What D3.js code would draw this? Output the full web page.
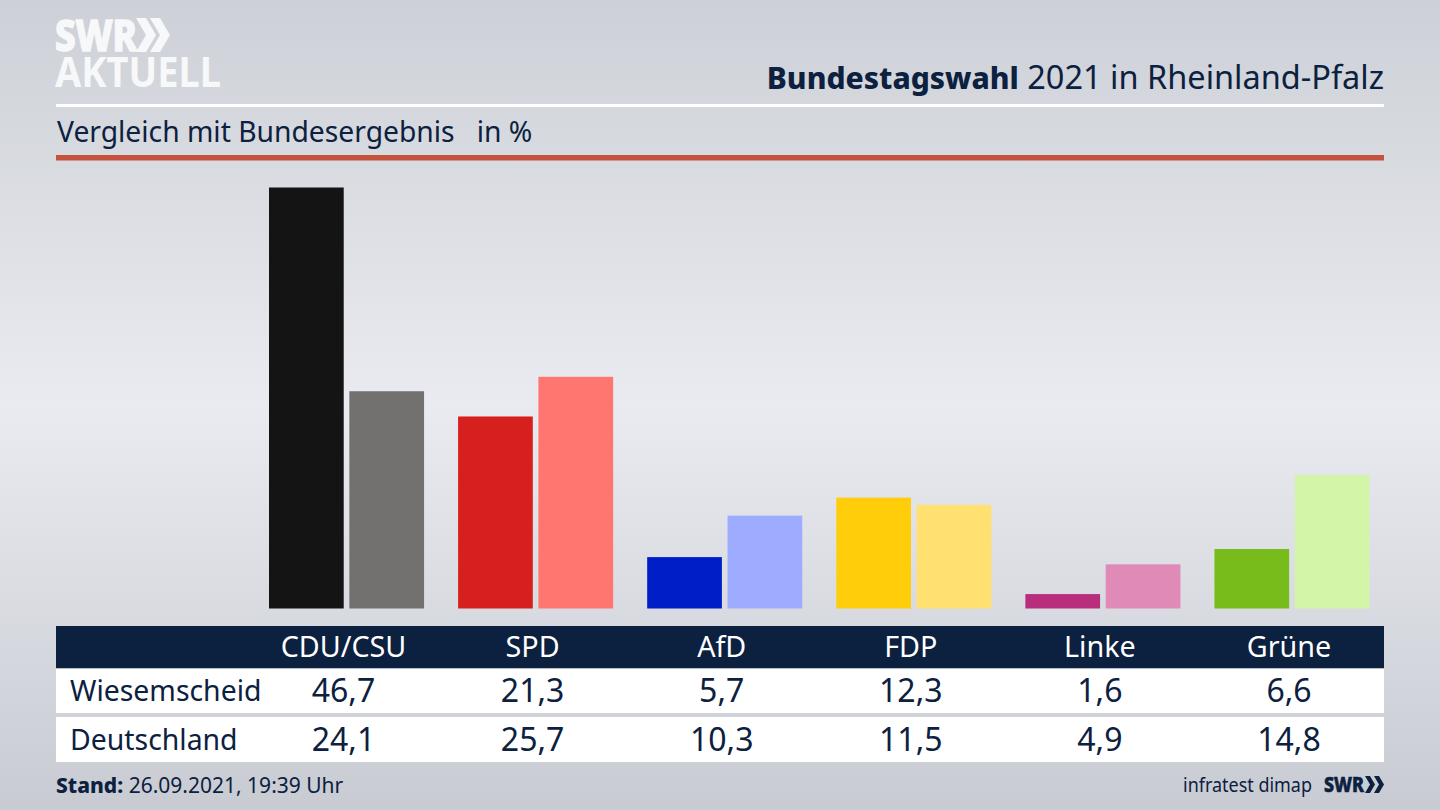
<!DOCTYPE html>
<html>
<head>
<meta charset="utf-8">
<script src="https://cdn.jsdelivr.net/npm/d3@7"></script>
<style>
  html, body { margin: 0; padding: 0; background: #dde0e5; }
  svg { display: block; }
  text { font-family: "Noto Sans", sans-serif; fill: #0c2040; }
</style>
</head>
<body>
<script>
const parties = ['CDU/CSU', 'SPD', 'AfD', 'FDP', 'Linke', 'Grüne']
const regions = ['Wiesemscheid', 'Deutschland']
const wiesemscheid = [46.7, 21.3, 5.7, 12.3, 1.6, 6.6]
const deutschland = [24.1, 25.7, 10.3, 11.5, 4.9, 14.8]
const colorsDark = ['#141414', '#d71f1d', '#001ec8', '#ffcd0a', '#b92d7d', '#78bc1b']
const colorsLight = ['#72716f', '#ff7570', '#9eacff', '#ffe070', '#e08ab8', '#d3f5a8']

const navy = '#0c2040'
const logoWhite = '#f7f8f9'
const fmt = v => v.toFixed(1).replace('.', ',')

const svg = d3.select('body').append('svg').attr('width', 1440).attr('height', 810)

// Background

const grad = svg.append('defs').append('linearGradient')
    .attr('id', 'bg').attr('x1', 0).attr('y1', 0).attr('x2', 0).attr('y2', 1)
grad.append('stop').attr('offset', '0%').attr('stop-color', '#cdd0d6')
grad.append('stop').attr('offset', '50%').attr('stop-color', '#e9ebf0')
grad.append('stop').attr('offset', '100%').attr('stop-color', '#c8cbd2')
svg.append('rect').attr('width', 1440).attr('height', 810).attr('fill', 'url(#bg)')

// Logo

const chevron = 'M0 0 L10 0 L20 17 L10 34 L0 34 L10 17 Z'
svg.append('text').attr('x', 55).attr('y', 51).attr('textLength', 82).attr('lengthAdjust', 'spacingAndGlyphs')
    .style('font-size', '42px').style('font-weight', 800).style('fill', logoWhite)
    .style('stroke', logoWhite).style('stroke-width', 1.5).text('SWR')
;[136, 150].forEach(x => {
    svg.append('path').attr('d', chevron).attr('transform', `translate(${x},18)`).attr('fill', logoWhite)
})
svg.append('text').attr('x', 55).attr('y', 87).attr('textLength', 166).attr('lengthAdjust', 'spacingAndGlyphs')
    .style('font-size', '42px').style('font-weight', 700).style('fill', logoWhite).text('AKTUELL')

// Heading

const title = svg.append('text').attr('x', 1384).attr('y', 89).attr('text-anchor', 'end')
title.append('tspan').style('font-size', '30px').style('font-weight', 800).text('Bundestagswahl')
title.append('tspan').style('font-size', '32.5px').text(' 2021 in Rheinland-Pfalz')

svg.append('rect').attr('x', 56).attr('y', 104).attr('width', 1328).attr('height', 3).attr('fill', '#fff')

svg.append('text').attr('x', 57).attr('y', 142).style('font-size', '28.25px')
    .style('white-space', 'pre').text('Vergleich mit Bundesergebnis   in %')

svg.append('rect').attr('x', 56).attr('y', 155).attr('width', 1328).attr('height', 5.5).attr('fill', '#c4523c')

// Bars

const y = d3.scaleLinear().domain([0, 46.7]).range([608.5, 187.5])
const x0 = d3.scaleBand().domain(parties).range([269, 1369.5]).paddingInner(0.18)
const x1 = d3.scaleBand().domain(regions).range([0, x0.bandwidth()]).paddingInner(0.07)

const groups = svg.selectAll('g.party').data(parties).join('g')
    .attr('class', 'party')
    .attr('transform', d => `translate(${x0(d)},0)`)

groups.selectAll('rect')
    .data((d, i) => [
        { region: regions[0], value: wiesemscheid[i], color: colorsDark[i] },
        { region: regions[1], value: deutschland[i], color: colorsLight[i] }
    ])
    .join('rect')
    .attr('x', d => x1(d.region))
    .attr('y', d => y(d.value))
    .attr('width', x1.bandwidth())
    .attr('height', d => y(0) - y(d.value))
    .attr('fill', d => d.color)

// Table

const labelX = d => x0(d) + x0.bandwidth() / 2 - 3

svg.append('rect').attr('x', 56).attr('y', 626).attr('width', 1328).attr('height', 42.5).attr('fill', navy)
svg.append('rect').attr('x', 56).attr('y', 668.5).attr('width', 1328).attr('height', 44.5).attr('fill', '#fff')
svg.append('rect').attr('x', 56).attr('y', 717).attr('width', 1328).attr('height', 45).attr('fill', '#fff')

svg.selectAll('text.party').data(parties).join('text')
    .attr('class', 'party')
    .attr('x', labelX).attr('y', 657)
    .attr('text-anchor', 'middle')
    .style('font-size', '28.7px').style('fill', '#fff')
    .text(d => d)

;[wiesemscheid, deutschland].forEach((values, r) => {
    const rowY = [701, 750][r]
    svg.append('text').attr('x', 70).attr('y', rowY).style('font-size', '28.4px').text(regions[r])
    svg.selectAll(`text.v${r}`).data(values).join('text')
        .attr('class', `v${r}`)
        .attr('x', (d, i) => labelX(parties[i])).attr('y', rowY + 1)
        .attr('text-anchor', 'middle')
        .style('font-size', '32px')
        .text(fmt)
})

// Footer

const stand = svg.append('text').attr('x', 56).attr('y', 793).style('font-size', '21px')
stand.append('tspan').style('font-weight', 800).text('Stand:')
stand.append('tspan').text(' 26.09.2021, 19:39 Uhr')

svg.append('text').attr('x', 1183).attr('y', 792).attr('textLength', 129).attr('lengthAdjust', 'spacingAndGlyphs')
    .style('font-size', '20px').text('infratest dimap')
svg.append('text').attr('x', 1324).attr('y', 792).attr('textLength', 40).attr('lengthAdjust', 'spacingAndGlyphs')
    .style('font-size', '21px').style('font-weight', 800).style('stroke', navy).style('stroke-width', 0.6).text('SWR')
const smallChevron = 'M0 0 L5 0 L10 8.5 L5 17 L0 17 L5 8.5 Z'
;[1365, 1374].forEach(x => {
    svg.append('path').attr('d', smallChevron).attr('transform', `translate(${x},776)`).attr('fill', navy)
})
</script>
</body>
</html>
